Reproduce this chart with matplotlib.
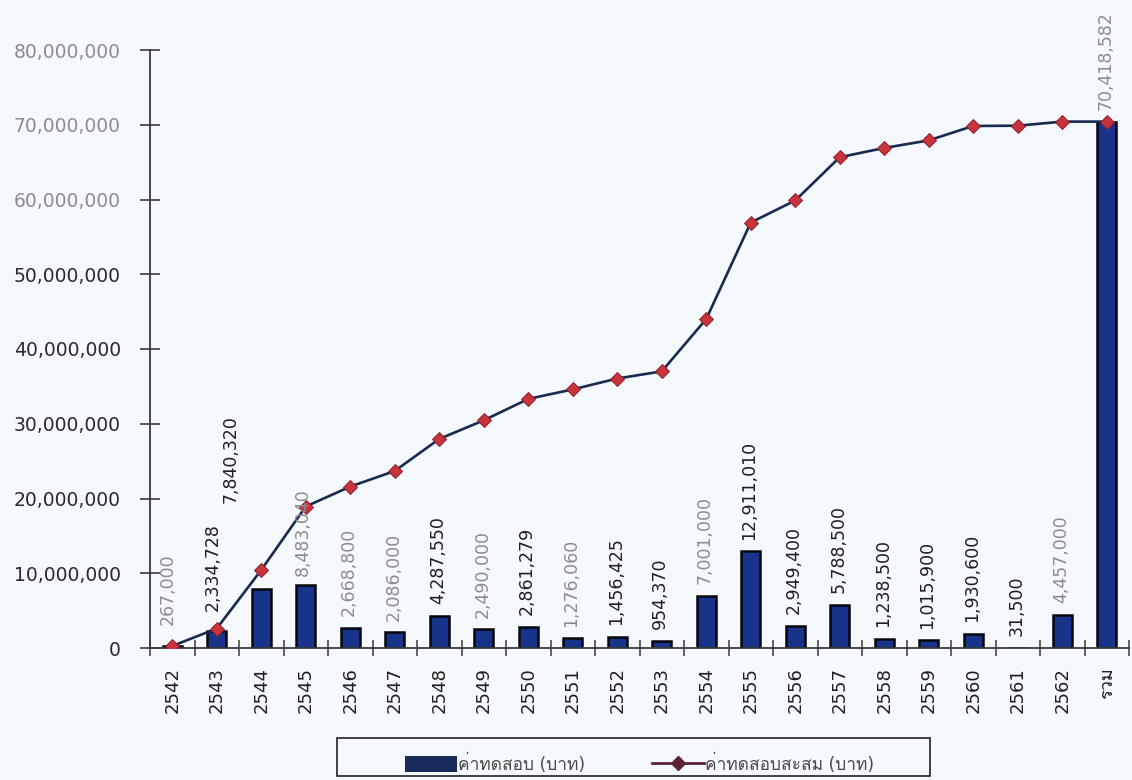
import matplotlib
matplotlib.use("Agg")
import matplotlib.pyplot as plt
from matplotlib import font_manager
from matplotlib.ft2font import FT2Font
from matplotlib.lines import Line2D
from matplotlib.patches import Patch, Rectangle
from matplotlib.ticker import FuncFormatter, MultipleLocator, FixedLocator
import numpy as np

# ---- data ---------------------------------------------------------------
categories = ["2542", "2543", "2544", "2545", "2546", "2547", "2548", "2549",
              "2550", "2551", "2552", "2553", "2554", "2555", "2556", "2557",
              "2558", "2559", "2560", "2561", "2562", "รวม"]

test_cost = [267000, 2334728, 7840320, 8483040, 2668800, 2086000, 4287550,
             2490000, 2861279, 1276060, 1456425, 954370, 7001000, 12911010,
             2949400, 5788500, 1238500, 1015900, 1930600, 31500, 4457000,
             70418582]

cumulative_cost = [267000, 2601728, 10442048, 18925088, 21593888, 23679888,
                   27967438, 30457438, 33318717, 34594777, 36051202, 37005572,
                   44006572, 56917582, 59866982, 65655482, 66893982, 67909882,
                   69840482, 69871982, 70418582, 70418582]

bar_label = "ค่าทดสอบ (บาท)"
line_label = "ค่าทดสอบสะสม (บาท)"


# ---- fonts: find something that can draw Thai ---------------------------
def family_with(char):
    for entry in font_manager.fontManager.ttflist:
        try:
            if FT2Font(entry.fname).get_char_index(ord(char)):
                return entry.name
        except Exception:
            continue
    return None


thai_family = family_with("ค")
families = ["DejaVu Sans"] + ([thai_family] if thai_family else [])
plt.rcParams["font.family"] = families

# ---- styling --------------------------------------------------------------
BG = "#f5f8fc"
BAR = "#17348a"
LINE = "#172a50"
MARKER = "#c8343c"
DARK = "#1e1e1e"
GREY = "#8c8c8c"

fig = plt.figure(figsize=(11.32, 7.8), dpi=100, facecolor=BG)
ax = fig.add_axes([150 / 1132, 1 - 648 / 780, (1129 - 150) / 1132, (648 - 50) / 780])
ax.set_facecolor(BG)

x = np.arange(len(categories))

ax.bar(x, test_cost, width=0.42, color=BAR, edgecolor="#06060c",
       linewidth=1.8, zorder=2)
ax.plot(x, cumulative_cost, color=LINE, lw=1.9, marker="D", ms=7,
        mfc=MARKER, mec="#8a1e2c", mew=0.7, zorder=3)

ax.set_xlim(-0.5, len(categories) - 0.5)
ax.set_ylim(0, 80_000_000)

# axes lines
for side in ("top", "right"):
    ax.spines[side].set_visible(False)
for side in ("left", "bottom"):
    ax.spines[side].set_color("#3a3a3a")
    ax.spines[side].set_linewidth(1.3)

# y axis
ax.yaxis.set_major_locator(MultipleLocator(10_000_000))
ax.yaxis.set_major_formatter(FuncFormatter(lambda v, _: f"{v:,.0f}"))
ax.tick_params(axis="y", direction="inout", length=14, width=1.2,
               color="#3a3a3a", labelsize=13.5, pad=14)
fig.canvas.draw()
for lbl, val in zip(ax.get_yticklabels(), ax.get_yticks()):
    lbl.set_color(GREY if val >= 60_000_000 else "#2a2a2a")

# x axis: labels at category centres, tick marks between categories
ax.set_xticks(x)
ax.set_xticklabels(categories, rotation=90)
ax.tick_params(axis="x", which="major", length=0, labelsize=13, pad=14,
               labelcolor=DARK)
ax.xaxis.set_minor_locator(FixedLocator(np.arange(-0.5, len(categories), 1.0)))
ax.tick_params(axis="x", which="minor", direction="inout", length=11,
               width=1.1, color="#3a3a3a")

# value labels on the bars (offsets in points)
label_offsets = {0: (-3, 15), 1: (-3, 14), 2: (-22, 62), 3: (-2, 6)}
grey_labels = {0, 3, 4, 5, 7, 9, 12, 20, 21}
for i, v in enumerate(test_cost):
    dx, dy = label_offsets.get(i, (-1, 8.5))
    ax.annotate(f"{v:,}", xy=(i, v), xytext=(dx, dy),
                textcoords="offset points", rotation=90, ha="center",
                va="bottom", fontsize=12.5,
                color=GREY if i in grey_labels else DARK, zorder=4)

# legend below the plot, inside a plain box
handles = [
    Patch(facecolor="#172a5a", edgecolor="none"),
    Line2D([], [], color="#5a2435", lw=2, marker="D", ms=7.5,
           mfc="#5a2435", mec="#5a2435"),
]
fig.legend(handles, [bar_label, line_label], loc="center",
           bbox_to_anchor=(0.565, 0.021), ncol=2, frameon=False, fontsize=12.5,
           handlelength=3.0, handleheight=1.0, columnspacing=3.8,
           handletextpad=0.1, labelcolor="#4a4a4a")
fig.patches.append(Rectangle((337 / 1132, 1 - 776 / 780), 593 / 1132, 38 / 780,
                             transform=fig.transFigure, fill=False,
                             edgecolor="#222222", lw=1.2))

fig.savefig("out.png", dpi=100, facecolor=BG)
